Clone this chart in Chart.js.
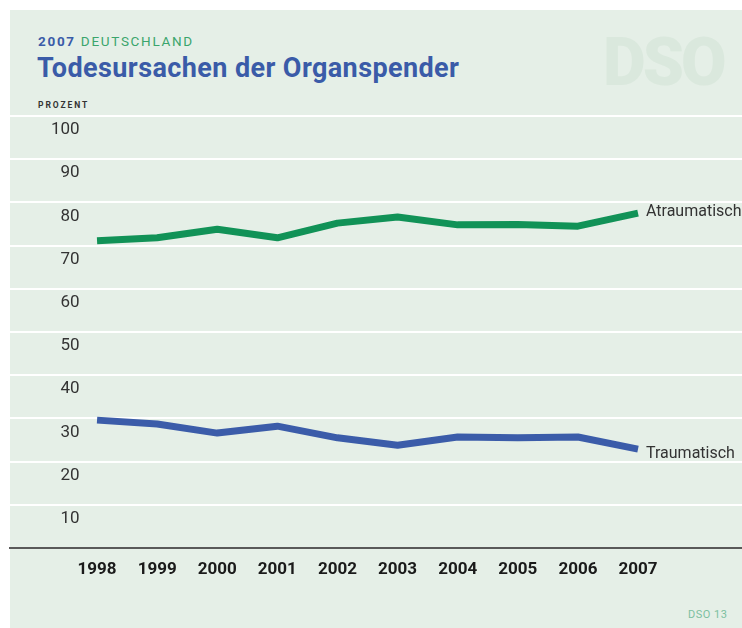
<!DOCTYPE html>
<html>
<head>
<meta charset="utf-8">
<script src="https://cdn.jsdelivr.net/npm/chart.js@4.4.1/dist/chart.umd.min.js"></script>
<style>
  html, body { margin: 0; padding: 0; background: #ffffff; }
  #wrap { position: relative; width: 742px; height: 628px; overflow: hidden; }
  #panel { position: absolute; left: 10px; top: 10px; width: 732px; height: 618px; background: #e5efe7; }
  .t { position: absolute; white-space: nowrap; line-height: 1; font-family: Roboto, "Liberation Sans", sans-serif; }
  #logo { left: 603px; top: 30px; font-size: 66px; font-weight: 900; color: #dae8dd; letter-spacing: -3px; }
  #sub { left: 38px; top: 35px; font-size: 13.5px; letter-spacing: 1.7px; }
  #sub b { color: #3a5ba8; font-weight: 700; }
  #sub span { color: #3aa56c; font-weight: 400; }
  #title { left: 37px; top: 55px; font-size: 27px; font-weight: 700; color: #3a5ba8; letter-spacing: 0.4px; }
  #unit { left: 38px; top: 101px; font-size: 8.5px; font-weight: 700; color: #333; letter-spacing: 1.9px; }
  #foot { left: 688px; top: 609px; font-size: 11px; color: #7cc0a0; letter-spacing: 0.5px; }
  canvas { position: absolute; left: 0; top: 0; }
</style>
</head>
<body>
<div id="wrap">
  <div id="panel"></div>
  <div class="t" id="logo">DSO</div>
  <div class="t" id="sub"><b>2007</b> <span>DEUTSCHLAND</span></div>
  <div class="t" id="title">Todesursachen der Organspender</div>
  <div class="t" id="unit">PROZENT</div>
  <div class="t" id="foot">DSO 13</div>
  <canvas id="c" width="742" height="628"></canvas>
</div>
<script>
const years = [1998, 1999, 2000, 2001, 2002, 2003, 2004, 2005, 2006, 2007];
const atraumatisch = [71.1, 71.8, 73.8, 71.8, 75.2, 76.6, 74.8, 74.9, 74.5, 77.5];
const traumatisch = [29.6, 28.7, 26.6, 28.2, 25.5, 23.8, 25.7, 25.5, 25.7, 22.9];
const seriesNames = ['Atraumatisch', 'Traumatisch'];
const yTicks = [0, 10, 20, 30, 40, 50, 60, 70, 80, 90, 100];

const endLabels = {
  id: 'endLabels',
  afterDatasetsDraw(chart) {
    const ctx = chart.ctx;
    ctx.save();
    ctx.font = '16px Roboto, "Liberation Sans", sans-serif';
    ctx.fillStyle = '#333333';
    ctx.textAlign = 'left';
    ctx.textBaseline = 'middle';
    const dy = [-1, 5];
    chart.data.datasets.forEach((ds, i) => {
      const meta = chart.getDatasetMeta(i);
      const pt = meta.data[meta.data.length - 1];
      ctx.fillText(ds.label, pt.x + 8, pt.y + dy[i]);
    });
    ctx.restore();
  }
};

new Chart(document.getElementById('c'), {
  type: 'line',
  data: {
    datasets: [
      {
        label: seriesNames[0],
        data: years.map((y, i) => ({ x: y, y: atraumatisch[i] })),
        borderColor: '#119257',
        borderWidth: 7,
        pointRadius: 0,
        tension: 0,
        borderJoinStyle: 'round',
        borderCapStyle: 'butt'
      },
      {
        label: seriesNames[1],
        data: years.map((y, i) => ({ x: y, y: traumatisch[i] })),
        borderColor: '#3b5ca9',
        borderWidth: 7,
        pointRadius: 0,
        tension: 0,
        borderJoinStyle: 'round',
        borderCapStyle: 'butt'
      }
    ]
  },
  options: {
    responsive: false,
    animation: false,
    layout: { padding: { left: 10, right: 0, top: 116, bottom: 0 } },
    plugins: { legend: { display: false }, tooltip: { enabled: false }, title: { display: false } },
    scales: {
      x: {
        type: 'linear',
        min: 1996.552,
        max: 2008.73,
        afterBuildTicks(scale) { scale.ticks = years.map(v => ({ value: v })); },
        afterFit(scale) { scale.height = 80; },
        grid: { display: false, drawTicks: false },
        border: { display: true, color: '#595959', width: 2 },
        ticks: {
          padding: 12,
          color: '#1a1a1a',
          font: { family: 'Roboto, "Liberation Sans", sans-serif', size: 17, weight: 'bold' },
          callback: v => String(v),
          maxRotation: 0,
          autoSkip: false
        }
      },
      y: {
        min: 0,
        max: 100,
        afterBuildTicks(scale) { scale.ticks = yTicks.map(v => ({ value: v })); },
        afterFit(scale) { scale.width = 0; },
        grid: { color: '#ffffff', lineWidth: 2, drawTicks: false },
        border: { display: false },
        ticks: {
          mirror: true,
          crossAlign: 'far',
          padding: 41,
          labelOffset: 14,
          color: '#333333',
          font: { family: 'Roboto, "Liberation Sans", sans-serif', size: 17 },
          callback: v => (v === 0 ? '' : String(v))
        }
      }
    }
  },
  plugins: [endLabels]
});
</script>
</body>
</html>
